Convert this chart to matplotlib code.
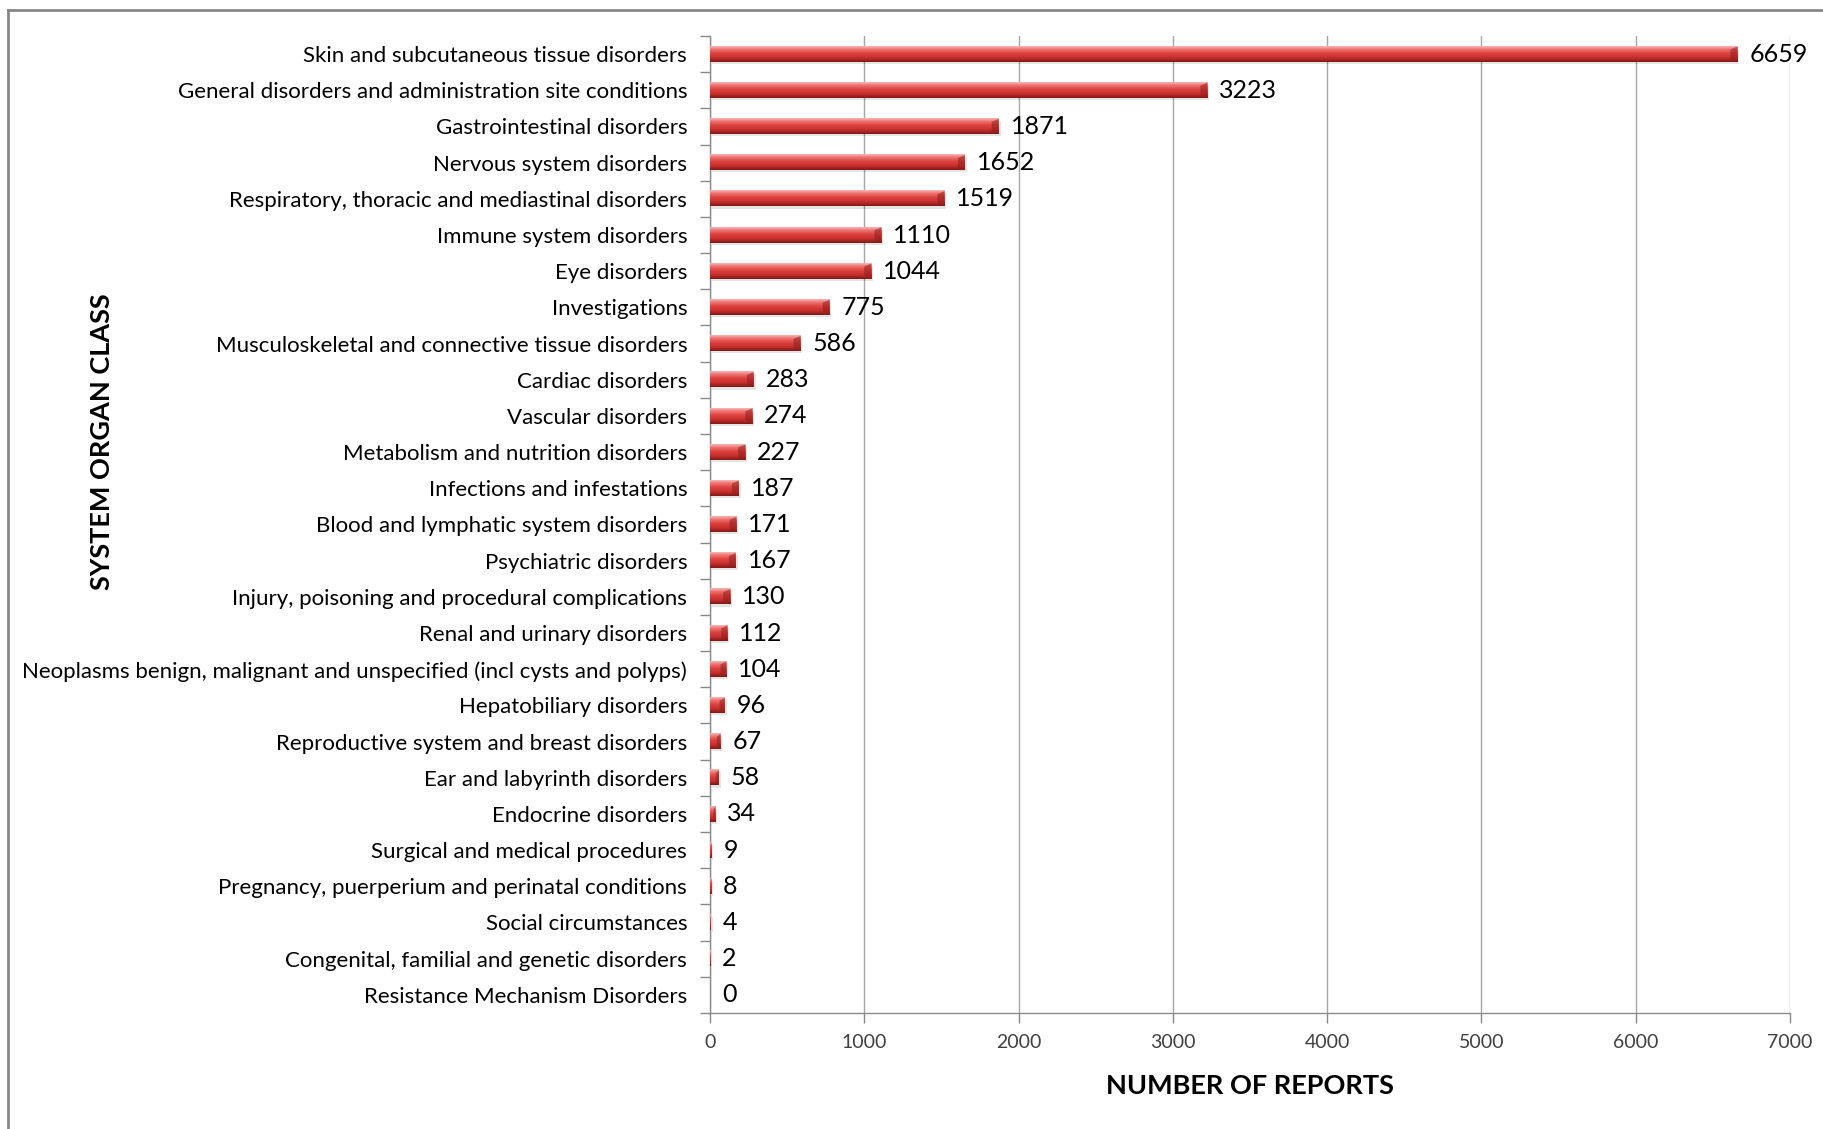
import numpy as np
import matplotlib
matplotlib.use("Agg")
import matplotlib.pyplot as plt
from matplotlib.colors import LinearSegmentedColormap
from matplotlib.lines import Line2D

categories = [
    "Skin and subcutaneous tissue disorders",
    "General disorders and administration site conditions",
    "Gastrointestinal disorders",
    "Nervous system disorders",
    "Respiratory, thoracic and mediastinal disorders",
    "Immune system disorders",
    "Eye disorders",
    "Investigations",
    "Musculoskeletal and connective tissue disorders",
    "Cardiac disorders",
    "Vascular disorders",
    "Metabolism and nutrition disorders",
    "Infections and infestations",
    "Blood and lymphatic system disorders",
    "Psychiatric disorders",
    "Injury, poisoning and procedural complications",
    "Renal and urinary disorders",
    "Neoplasms benign, malignant and unspecified (incl cysts and polyps)",
    "Hepatobiliary disorders",
    "Reproductive system and breast disorders",
    "Ear and labyrinth disorders",
    "Endocrine disorders",
    "Surgical and medical procedures",
    "Pregnancy, puerperium and perinatal conditions",
    "Social circumstances",
    "Congenital, familial and genetic disorders",
    "Resistance Mechanism Disorders",
]
reports = [6659, 3223, 1871, 1652, 1519, 1110, 1044, 775, 586, 283, 274, 227,
           187, 171, 167, 130, 112, 104, 96, 67, 58, 34, 9, 8, 4, 2, 0]
x_ticks = [0, 1000, 2000, 3000, 4000, 5000, 6000, 7000]

plt.rcParams['font.family'] = ['Lato', 'DejaVu Sans']

fig = plt.figure(figsize=(18.23, 11.29), dpi=100)
ax = fig.add_axes([0.3895, 0.1028, 0.5924, 0.8653])

n = len(categories)
ypos = np.arange(n)[::-1]          # first category at the top
bar_h = 0.42

# vertical shading of a bevelled red bar (top row first)
bar_cmap = LinearSegmentedColormap.from_list(
    "bar", [(0.0, "#f8b8b6"), (0.18, "#ef7775"), (0.45, "#de4240"),
            (0.75, "#c42e2c"), (1.0, "#7e1a18")])
grad = np.linspace(0, 1, 64).reshape(-1, 1)

xmax = 7000
ax.set_xlim(0, xmax)
ax.set_ylim(-0.5, n - 0.5)

for y, v in zip(ypos, reports):
    if v <= 0:
        continue
    # soft drop shadow
    ax.barh(y - 0.06, v, height=bar_h, left=12, color="#000000", alpha=0.10,
            zorder=2, linewidth=0)
    ax.imshow(grad, cmap=bar_cmap, aspect="auto", interpolation="bilinear",
              extent=[0, v, y - bar_h / 2, y + bar_h / 2], zorder=3)
    # darker bevel at the right end of the bar
    bw = min(45, v * 0.35)
    ax.fill([v - bw, v, v, v - bw], [y + bar_h / 2 - 0.08, y + bar_h / 2,
            y - bar_h / 2, y - bar_h / 2 + 0.08], color="#8c1f1d", alpha=0.55,
            zorder=4, linewidth=0)
    ax.fill([v - bw, v, v - bw], [y + bar_h / 2 - 0.08, y + bar_h / 2,
            y + bar_h / 2 - 0.08], color="#f6b3b1", alpha=0.8, zorder=4,
            linewidth=0)

ax.set_xlim(0, xmax)
ax.set_ylim(-0.5, n - 0.5)

# value labels
for y, v in zip(ypos, reports):
    ax.annotate(str(v), xy=(v, y), xytext=(8.5, 0), textcoords="offset points",
                va="center", ha="left", fontsize=18, color="#000000",
                zorder=6)

# axes styling
ax.set_xticks(x_ticks)
ax.set_xticklabels([str(t) for t in x_ticks], fontsize=14, color="#404040")
ax.set_yticks(ypos)
ax.set_yticklabels(categories, fontsize=16, color="#000000")
ax.tick_params(axis="y", length=0, pad=16.5)
ax.set_yticks(np.arange(-0.5, n, 1.0), minor=True)
ax.tick_params(axis="y", which="minor", length=7, color="#888888", width=1)
ax.tick_params(axis="x", length=7, color="#888888", width=1, pad=8)

ax.grid(axis="x", color="#a6a6a6", linewidth=1.0, zorder=0)
ax.set_axisbelow(True)
for side in ["top", "right"]:
    ax.spines[side].set_visible(False)
for side in ["left", "bottom"]:
    ax.spines[side].set_color("#8c8c8c")
    ax.spines[side].set_linewidth(1.0)

# axis titles
ax.text(0.5, -0.0747, "NUMBER OF REPORTS", transform=ax.transAxes,
        ha="center", va="center", fontsize=19.5, fontweight="bold")
ax.text(-0.563, 0.585, "SYSTEM ORGAN CLASS", transform=ax.transAxes,
        ha="center", va="center", rotation=90, fontsize=19.5,
        fontweight="bold")

# outer frame (left and top edges visible)
fig.add_artist(Line2D([8 / 1823, 8 / 1823], [0, 1 - 10 / 1129],
                      transform=fig.transFigure, color="#878787", linewidth=2))
fig.add_artist(Line2D([8 / 1823, 1], [1 - 10 / 1129, 1 - 10 / 1129],
                      transform=fig.transFigure, color="#878787", linewidth=2))

fig.savefig("out.png", dpi=100, facecolor="white")
